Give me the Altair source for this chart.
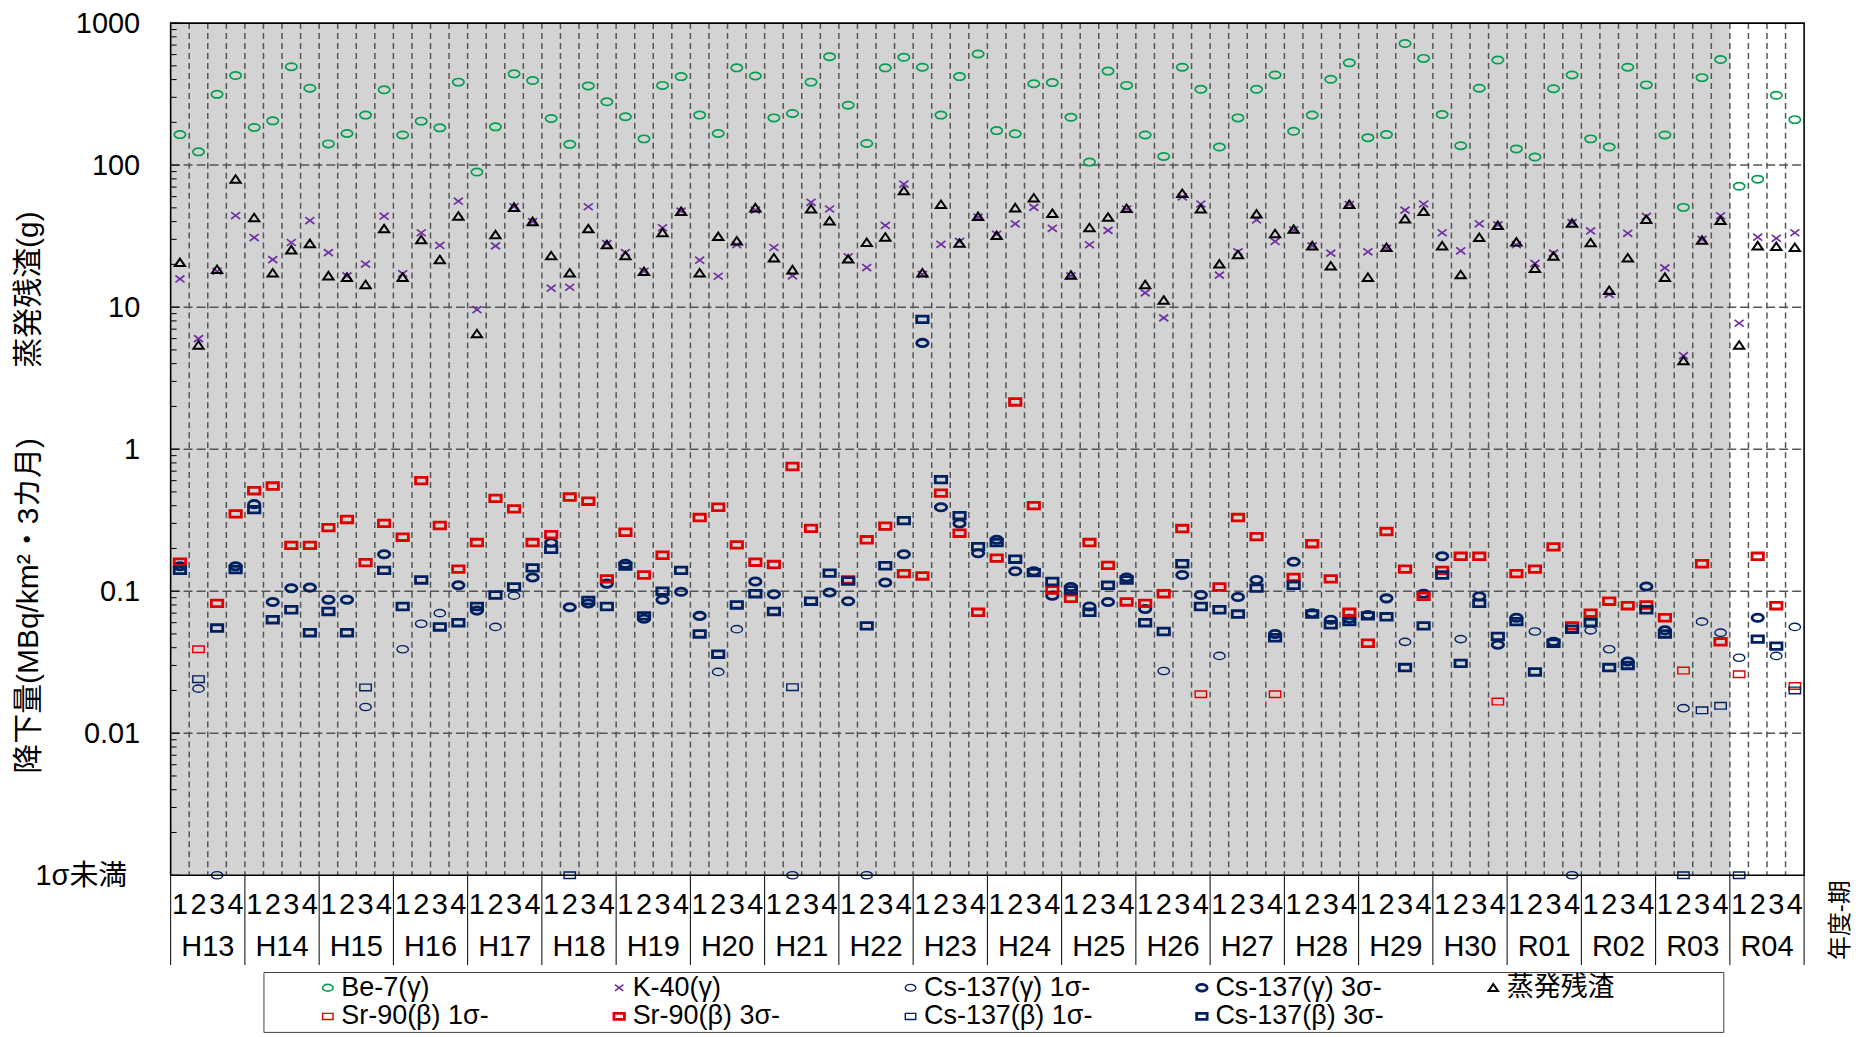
import altair as alt
import pandas as pd

FONT = "Liberation Sans, Arial, Noto Sans CJK JP, sans-serif"
BELOW = 0.001  # plotted on the "1σ未満" row

years = ["H13", "H14", "H15", "H16", "H17", "H18", "H19", "H20", "H21", "H22", "H23",
         "H24", "H25", "H26", "H27", "H28", "H29", "H30", "R01", "R02", "R03", "R04"]
quarters = ["1", "2", "3", "4"]
shaded_years = 21  # H13..R03 on grey background

be7 = [164, 124, 315, 427, 184, 205, 493, 348, 141, 167, 225, 339, 163, 204, 183, 384,
       89.4, 186, 439, 394, 213, 140, 361, 279, 219, 153, 364, 420, 225, 167, 484, 424,
       215, 231, 384, 580, 264, 142, 484, 574, 489, 225, 420, 606, 175, 166, 374, 381,
       217, 105, 459, 364, 163, 115, 489, 342, 134, 215, 342, 431, 173, 225, 402, 525,
       156, 164, 718, 564, 227, 137, 348, 549, 130, 114, 345, 431, 153, 134, 489, 367,
       163, 50.4, 413, 554, 70.9, 79.6, 310, 209]

k40 = [15.8, 6.0, 17.9, 44.1, 30.9, 21.6, 28.5, 40.7, 24.2, 16.6, 20.1, 43.7, 17.2, 33.4, 27.2, 55.7,
       9.6, 27.0, 50.9, 40.0, 13.6, 13.8, 50.9, 28.0, 24.2, 17.9, 36.2, 47.4, 21.4, 16.5, 27.5, 48.2,
       26.3, 16.6, 54.7, 49.1, 22.6, 19.0, 37.6, 73.5, 17.0, 27.7, 29.0, 43.0, 32.6, 38.6, 50.4, 35.9,
       16.6, 27.5, 34.7, 49.1, 12.6, 8.4, 59.8, 53.2, 16.8, 24.5, 41.1, 29.0, 35.0, 27.0, 24.0, 52.8,
       24.5, 26.0, 48.2, 53.2, 33.4, 24.9, 38.6, 37.9, 27.5, 20.3, 24.0, 39.3, 34.4, 12.3, 33.1, 43.5,
       18.9, 4.55, 30.0, 44.0, 7.7, 31.1, 30.5, 33.4]

residue = [20.6, 5.4, 18.4, 79.6, 42.6, 17.4, 25.3, 28.0, 16.6, 16.2, 14.4, 35.6, 16.2, 29.8, 21.6, 43.7,
           6.5, 32.3, 50.4, 40.0, 23.0, 17.4, 35.6, 27.5, 23.0, 17.8, 33.4, 47.2, 17.4, 31.4, 29.2, 50.0,
           22.2, 18.3, 49.1, 40.4, 21.8, 28.5, 31.1, 66.0, 17.4, 52.8, 28.2, 43.4, 31.9, 50.0, 58.7, 45.7,
           16.8, 36.2, 43.0, 49.5, 14.4, 11.2, 63.1, 49.1, 20.1, 23.4, 45.2, 32.9, 35.3, 27.0, 19.5, 52.8,
           16.2, 26.3, 41.8, 47.2, 27.0, 16.9, 30.9, 37.6, 28.7, 18.7, 22.8, 39.0, 28.4, 13.1, 22.2, 41.4,
           16.2, 4.2, 29.6, 40.7, 5.4, 27.0, 26.7, 26.3]

sr90 = [0.16, 0.039, 0.082, 0.35, 0.51, 0.55, 0.21, 0.21, 0.28, 0.32, 0.159, 0.30, 0.24, 0.60, 0.29, 0.143,
        0.22, 0.45, 0.38, 0.22, 0.25, 0.46, 0.43, 0.122, 0.26, 0.13, 0.179, None, 0.33, 0.39, 0.212, 0.16,
        0.154, 0.755, 0.277, None, 0.12, 0.23, 0.287, 0.133, 0.128, 0.49, 0.256, 0.071, 0.171, 2.15, 0.40, 0.102,
        0.089, 0.22, 0.152, 0.084, 0.082, 0.096, 0.276, 0.0188, 0.107, 0.33, 0.242, 0.0188, 0.125, 0.216, 0.122, 0.071,
        0.043, 0.263, 0.143, 0.092, 0.14, 0.176, 0.176, 0.0167, 0.133, 0.143, 0.205, 0.057, 0.070, 0.085, 0.079, 0.080,
        0.065, 0.0276, 0.156, 0.044, 0.026, 0.176, 0.079, 0.0215]
sr90_sig = ("3133 3333 3333 3333 3333 3333 333- 3333 333- 3333 3333 "
            "3333 3333 3331 3331 3333 3333 3331 3333 3333 3133 1331")

cs_gamma = [0.15, 0.0206, BELOW, 0.15, 0.41, 0.084, 0.105, 0.106, 0.087, 0.087, 0.0153, 0.182, 0.039, 0.059, 0.070, 0.110,
            0.073, 0.056, 0.093, 0.125, 0.22, 0.077, 0.082, 0.113, 0.156, 0.064, 0.087, 0.099, 0.067, 0.027, 0.054, 0.117,
            0.095, BELOW, None, 0.098, 0.085, BELOW, 0.115, 0.182, 5.6, 0.39, 0.30, 0.185, 0.23, 0.138, 0.138, 0.093,
            0.107, 0.078, 0.084, 0.125, 0.075, 0.0274, 0.13, 0.094, 0.035, 0.091, 0.12, 0.050, 0.161, 0.070, 0.063, 0.064,
            0.068, 0.089, 0.044, 0.096, 0.176, 0.046, 0.092, 0.042, 0.065, 0.052, 0.044, BELOW, 0.053, 0.039, 0.032, 0.108,
            0.053, 0.015, 0.061, 0.051, 0.034, 0.065, 0.035, 0.056]
cs_gamma_sig = ("3113 3333 3313 1113 3113 3333 3333 3113 31-3 3133 3333 "
                "3333 3333 3133 1333 3333 3313 3133 3131 1133 3111 1311")

cs_beta = [0.14, 0.024, 0.055, 0.142, 0.375, 0.063, 0.074, 0.051, 0.072, 0.051, 0.021, 0.14, 0.078, 0.12, 0.056, 0.060,
           0.078, 0.094, 0.107, 0.146, 0.197, BELOW, 0.086, 0.078, 0.15, 0.067, 0.10, 0.14, 0.050, 0.036, 0.080, 0.096,
           0.072, 0.0211, 0.085, 0.134, 0.118, 0.057, 0.151, 0.314, 8.2, 0.61, 0.34, 0.206, 0.22, 0.168, 0.135, 0.117,
           0.102, 0.071, 0.11, 0.12, 0.060, 0.052, 0.156, 0.078, 0.074, 0.069, 0.105, 0.047, 0.11, 0.069, 0.058, 0.061,
           0.067, 0.066, 0.029, 0.057, 0.13, 0.031, 0.082, 0.048, 0.061, 0.027, 0.043, 0.054, 0.060, 0.029, 0.030, 0.074,
           0.050, BELOW, 0.0145, 0.0156, BELOW, 0.046, 0.041, 0.020]
cs_beta_sig = ("3133 3333 3313 3333 3333 3133 3333 3333 3133 3333 3333 "
               "3333 3333 3333 3333 3333 3333 3333 3333 3333 3111 1331")

series = ["Be-7(γ)", "K-40(γ)", "Cs-137(γ) 1σ-", "Cs-137(γ) 3σ-", "蒸発残渣",
          "Sr-90(β) 1σ-", "Sr-90(β) 3σ-", "Cs-137(β) 1σ-", "Cs-137(β) 3σ-"]
NAVY, RED, GREEN, PURPLE = "#002060", "#e00000", "#00a050", "#7030a0"
colors = [GREEN, PURPLE, NAVY, NAVY, "#000000", RED, RED, NAVY, NAVY]
ELL = ("M-1,0C-1,-0.36,-0.55,-0.64,0,-0.64C0.55,-0.64,1,-0.36,1,0"
       "C1,0.36,0.55,0.64,0,0.64C-0.55,0.64,-1,0.36,-1,0Z")
RECT = "M-1,-0.58H1V0.58H-1Z"
TRI = "M0,-0.7L0.9,0.62L-0.9,0.62Z"
CROSS = "M-0.8,-0.6L0.8,0.6M-0.8,0.6L0.8,-0.6"
shapes = [ELL, CROSS, ELL, ELL, TRI, RECT, RECT, RECT, RECT]
widths = [1.7, 1.7, 1.4, 2.8, 2.0, 1.4, 2.8, 1.4, 2.8]

NQ = len(years) * 4
W, H = 1637, 854

# ---- long table of points in drawing order ----
rows = []
def add(name, values, sig=None, level=None):
    s = sig.replace(" ", "") if sig else None
    for i, v in enumerate(values):
        if v is None:
            continue
        if s is not None and s[i] != level:
            continue
        rows.append({"s": name, "x": i + 0.5, "v": v})

add(series[0], be7)
add(series[1], k40)
add(series[2], cs_gamma, cs_gamma_sig, "1")
add(series[3], cs_gamma, cs_gamma_sig, "3")
add(series[4], residue)
add(series[5], sr90, sr90_sig, "1")
add(series[6], sr90, sr90_sig, "3")
add(series[7], cs_beta, cs_beta_sig, "1")
add(series[8], cs_beta, cs_beta_sig, "3")
pts = pd.DataFrame(rows)

xscale = alt.Scale(domain=[0, NQ], nice=False, zero=False)
yscale = alt.Scale(type="log", domain=[0.001, 1000], nice=False)
decades = [0.001, 0.01, 0.1, 1, 10, 100, 1000]
yaxis = alt.Axis(values=decades,
                 labelExpr="datum.value < 0.005 ? '1σ未満' : format(datum.value, '~g')",
                 ticks=False, domain=False, grid=False, title=None,
                 labelFontSize=29, labelFont=FONT, labelColor="black",
                 labelPadding={"condition": {"test": "datum.value < 0.005", "value": 44}, "value": 31},
                 labelFlush=False, labelOverlap=False)

X = lambda f: alt.X(f, scale=xscale, axis=None)
Y = lambda f: alt.Y(f, scale=yscale, axis=yaxis)

bg = alt.Chart(pd.DataFrame({"x0": [0], "x1": [shaded_years * 4]})).mark_rect(
    color="#d3d3d3").encode(x=X("x0:Q"), x2="x1:Q", y=alt.value(0), y2=alt.value(H))

vgrid = alt.Chart(pd.DataFrame({"b": list(range(1, NQ))})).mark_rule(
    color="#555555", strokeDash=[6, 4], strokeWidth=1.5).encode(
    x=X("b:Q"), y=alt.value(0), y2=alt.value(H))

hgrid = alt.Chart(pd.DataFrame({"v": decades[1:-1]})).mark_rule(
    color="#555555", strokeDash=[9, 4], strokeWidth=1.5).encode(
    y=Y("v:Q"), x=alt.value(0), x2=alt.value(W))

minor = [m * d for d in decades[:-1] for m in range(2, 10)]
ticks_major = alt.Chart(pd.DataFrame({"v": decades})).mark_rule(
    color="black", strokeWidth=1).encode(y=Y("v:Q"), x=alt.value(0), x2=alt.value(9))
ticks_minor = alt.Chart(pd.DataFrame({"v": minor})).mark_rule(
    color="black", strokeWidth=1).encode(y=Y("v:Q"), x=alt.value(0), x2=alt.value(6))

legend = alt.Legend(title=".", titleOrient="right", titleColor="rgba(0,0,0,0)",
                    titleFontSize=10, titlePadding=104,
                    orient="none", legendX=93, legendY=951,
                    direction="horizontal", columns=5, gridAlign="all",
                    columnPadding=47, rowPadding=1, padding=2, symbolOffset=49,
                    symbolSize=110, labelFontSize=27, labelFont=FONT, labelColor="black",
                    labelOffset=0, labelLimit=600,
                    strokeColor="#404040", fillColor="white")

points = alt.Chart(pts).mark_point(size=130, filled=False, opacity=1).encode(
    x=X("x:Q"), y=Y("v:Q"),
    color=alt.Color("s:N", scale=alt.Scale(domain=series, range=colors), legend=legend),
    shape=alt.Shape("s:N", scale=alt.Scale(domain=series, range=shapes), legend=legend),
    strokeWidth=alt.StrokeWidth("s:N", scale=alt.Scale(type="ordinal", domain=series, range=widths),
                                legend=legend),
)

border = alt.Chart(pd.DataFrame({"x0": [0], "x1": [NQ]})).mark_rect(
    fillOpacity=0, stroke="black", strokeWidth=1.6).encode(
    x=X("x0:Q"), x2="x1:Q", y=alt.value(0), y2=alt.value(H))

qdf = pd.DataFrame({"x": [i + 0.5 for i in range(NQ)],
                    "q": [quarters[i % 4] for i in range(NQ)]})
qlab = alt.Chart(qdf).mark_text(fontSize=29, font=FONT, color="black", baseline="alphabetic").encode(
    x=X("x:Q"), y=alt.value(893), text="q:N")

ydf = pd.DataFrame({"x": [4 * k + 2 for k in range(len(years))], "y": years})
ylab = alt.Chart(ydf).mark_text(fontSize=29, font=FONT, color="black", baseline="alphabetic").encode(
    x=X("x:Q"), y=alt.value(935), text="y:N")

sep = alt.Chart(pd.DataFrame({"b": [4 * k for k in range(len(years) + 1)]})).mark_rule(
    color="black", strokeWidth=1).encode(x=X("b:Q"), y=alt.value(H), y2=alt.value(944))

def label(text, x, y, size):
    return alt.Chart(pd.DataFrame({"t": [text]})).mark_text(
        fontSize=size, font=FONT, color="black", angle=270, baseline="middle", align="center").encode(
        text="t:N", x=alt.value(x), y=alt.value(y))

title_top = label("蒸発残渣(g)", -142, 267, 30)
title_low = label("降下量(MBq/km²・3カ月)", -142, 584, 30)
axis_note = label("年度-期", 1674, 899, 24)

chart = alt.layer(bg, vgrid, hgrid, ticks_major, ticks_minor, points, border,
                  qlab, ylab, sep, title_top, title_low, axis_note).properties(
    width=W, height=H,
    autosize=alt.AutoSizeParams(type="none"),
    padding={"left": 163, "top": 14, "right": 50, "bottom": 158},
).configure_view(stroke="transparent")

chart.save("out.html", embed_options={"renderer": "svg", "actions": False})
